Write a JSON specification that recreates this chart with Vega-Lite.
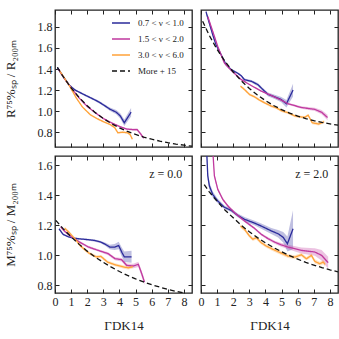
{
  "$schema": "https://vega.github.io/schema/vega-lite/v6.json",
  "background": "white",
  "padding": {"left": 3, "top": 8, "right": 0, "bottom": 0},
  "config": {
    "font": "Liberation Serif",
    "view": {"stroke": "#222222", "strokeWidth": 1.3},
    "axis": {"domain": false, "grid": false, "tickSize": -4, "tickColor": "#222222", "tickWidth": 1, "labelFont": "Liberation Serif", "labelFontSize": 12, "labelColor": "#222222", "labelPadding": 7, "labelFlush": false, "titleFont": "Liberation Serif", "titleFontSize": 13, "titleFontWeight": "normal", "titleColor": "#222222"},
    "legend": {"labelFont": "Liberation Serif", "labelFontSize": 9, "labelColor": "#222222"}
  },
  "datasets": {
    "d": [
      {"p":"Rz0","s":"0.7 < ν < 1.0","x":0.15,"y":1.413,"lo":1.405,"hi":1.421},
      {"p":"Rz0","s":"0.7 < ν < 1.0","x":0.5,"y":1.33,"lo":1.322,"hi":1.338},
      {"p":"Rz0","s":"0.7 < ν < 1.0","x":0.9,"y":1.245,"lo":1.237,"hi":1.253},
      {"p":"Rz0","s":"0.7 < ν < 1.0","x":1.25,"y":1.2,"lo":1.192,"hi":1.208},
      {"p":"Rz0","s":"0.7 < ν < 1.0","x":1.7,"y":1.165,"lo":1.155,"hi":1.175},
      {"p":"Rz0","s":"0.7 < ν < 1.0","x":2.1,"y":1.135,"lo":1.125,"hi":1.145},
      {"p":"Rz0","s":"0.7 < ν < 1.0","x":2.5,"y":1.105,"lo":1.095,"hi":1.115},
      {"p":"Rz0","s":"0.7 < ν < 1.0","x":2.75,"y":1.085,"lo":1.073,"hi":1.097},
      {"p":"Rz0","s":"0.7 < ν < 1.0","x":3.0,"y":1.06,"lo":1.048,"hi":1.072},
      {"p":"Rz0","s":"0.7 < ν < 1.0","x":3.4,"y":1.02,"lo":1.005,"hi":1.035},
      {"p":"Rz0","s":"0.7 < ν < 1.0","x":3.8,"y":0.99,"lo":0.97,"hi":1.01},
      {"p":"Rz0","s":"0.7 < ν < 1.0","x":4.05,"y":0.955,"lo":0.93,"hi":0.98},
      {"p":"Rz0","s":"0.7 < ν < 1.0","x":4.3,"y":0.89,"lo":0.86,"hi":0.92},
      {"p":"Rz0","s":"0.7 < ν < 1.0","x":4.72,"y":0.99,"lo":0.95,"hi":1.03},
      {"p":"Rz0","s":"1.5 < ν < 2.0","x":0.2,"y":1.4,"lo":1.395,"hi":1.405},
      {"p":"Rz0","s":"1.5 < ν < 2.0","x":0.6,"y":1.305,"lo":1.3,"hi":1.31},
      {"p":"Rz0","s":"1.5 < ν < 2.0","x":1.0,"y":1.22,"lo":1.215,"hi":1.225},
      {"p":"Rz0","s":"1.5 < ν < 2.0","x":1.5,"y":1.125,"lo":1.12,"hi":1.13},
      {"p":"Rz0","s":"1.5 < ν < 2.0","x":2.0,"y":1.045,"lo":1.04,"hi":1.05},
      {"p":"Rz0","s":"1.5 < ν < 2.0","x":2.5,"y":0.985,"lo":0.979,"hi":0.991},
      {"p":"Rz0","s":"1.5 < ν < 2.0","x":3.0,"y":0.93,"lo":0.924,"hi":0.936},
      {"p":"Rz0","s":"1.5 < ν < 2.0","x":3.5,"y":0.89,"lo":0.884,"hi":0.896},
      {"p":"Rz0","s":"1.5 < ν < 2.0","x":4.0,"y":0.855,"lo":0.848,"hi":0.862},
      {"p":"Rz0","s":"1.5 < ν < 2.0","x":4.45,"y":0.83,"lo":0.822,"hi":0.838},
      {"p":"Rz0","s":"1.5 < ν < 2.0","x":4.85,"y":0.825,"lo":0.815,"hi":0.835},
      {"p":"Rz0","s":"1.5 < ν < 2.0","x":5.1,"y":0.825,"lo":0.813,"hi":0.837},
      {"p":"Rz0","s":"1.5 < ν < 2.0","x":5.3,"y":0.787,"lo":0.773,"hi":0.801},
      {"p":"Rz0","s":"1.5 < ν < 2.0","x":5.5,"y":0.745,"lo":0.73,"hi":0.76},
      {"p":"Rz0","s":"3.0 < ν < 6.0","x":0.3,"y":1.38,"lo":1.372,"hi":1.388},
      {"p":"Rz0","s":"3.0 < ν < 6.0","x":0.9,"y":1.24,"lo":1.232,"hi":1.248},
      {"p":"Rz0","s":"3.0 < ν < 6.0","x":1.3,"y":1.13,"lo":1.122,"hi":1.138},
      {"p":"Rz0","s":"3.0 < ν < 6.0","x":1.7,"y":1.04,"lo":1.032,"hi":1.048},
      {"p":"Rz0","s":"3.0 < ν < 6.0","x":2.2,"y":0.965,"lo":0.957,"hi":0.973},
      {"p":"Rz0","s":"3.0 < ν < 6.0","x":2.6,"y":0.93,"lo":0.922,"hi":0.938},
      {"p":"Rz0","s":"3.0 < ν < 6.0","x":3.0,"y":0.9,"lo":0.892,"hi":0.908},
      {"p":"Rz0","s":"3.0 < ν < 6.0","x":3.4,"y":0.875,"lo":0.866,"hi":0.884},
      {"p":"Rz0","s":"3.0 < ν < 6.0","x":3.7,"y":0.845,"lo":0.836,"hi":0.854},
      {"p":"Rz0","s":"3.0 < ν < 6.0","x":3.9,"y":0.795,"lo":0.786,"hi":0.804},
      {"p":"Rz0","s":"3.0 < ν < 6.0","x":4.2,"y":0.8,"lo":0.79,"hi":0.81},
      {"p":"Rz0","s":"3.0 < ν < 6.0","x":4.5,"y":0.795,"lo":0.785,"hi":0.805},
      {"p":"Rz0","s":"3.0 < ν < 6.0","x":4.65,"y":0.78,"lo":0.769,"hi":0.791},
      {"p":"Rz0","s":"3.0 < ν < 6.0","x":4.8,"y":0.735,"lo":0.723,"hi":0.747},
      {"p":"Rz0","s":"More + 15","x":0.15,"y":1.417},
      {"p":"Rz0","s":"More + 15","x":0.5,"y":1.329},
      {"p":"Rz0","s":"More + 15","x":1.0,"y":1.221},
      {"p":"Rz0","s":"More + 15","x":1.5,"y":1.129},
      {"p":"Rz0","s":"More + 15","x":2.0,"y":1.052},
      {"p":"Rz0","s":"More + 15","x":2.5,"y":0.986},
      {"p":"Rz0","s":"More + 15","x":3.0,"y":0.93},
      {"p":"Rz0","s":"More + 15","x":3.5,"y":0.882},
      {"p":"Rz0","s":"More + 15","x":4.0,"y":0.842},
      {"p":"Rz0","s":"More + 15","x":4.5,"y":0.808},
      {"p":"Rz0","s":"More + 15","x":5.0,"y":0.779},
      {"p":"Rz0","s":"More + 15","x":5.5,"y":0.754},
      {"p":"Rz0","s":"More + 15","x":6.0,"y":0.734},
      {"p":"Rz0","s":"More + 15","x":6.5,"y":0.716},
      {"p":"Rz0","s":"More + 15","x":7.0,"y":0.701},
      {"p":"Rz0","s":"More + 15","x":7.5,"y":0.688},
      {"p":"Rz0","s":"More + 15","x":8.0,"y":0.677},
      {"p":"Rz0","s":"More + 15","x":8.5,"y":0.668},

      {"p":"Rz2","s":"0.7 < ν < 1.0","x":0.31,"y":1.944,"lo":1.924,"hi":1.96},
      {"p":"Rz2","s":"0.7 < ν < 1.0","x":0.52,"y":1.834,"lo":1.814,"hi":1.854},
      {"p":"Rz2","s":"0.7 < ν < 1.0","x":0.73,"y":1.724,"lo":1.709,"hi":1.739},
      {"p":"Rz2","s":"0.7 < ν < 1.0","x":0.93,"y":1.63,"lo":1.618,"hi":1.642},
      {"p":"Rz2","s":"0.7 < ν < 1.0","x":1.25,"y":1.535,"lo":1.525,"hi":1.545},
      {"p":"Rz2","s":"0.7 < ν < 1.0","x":1.56,"y":1.441,"lo":1.431,"hi":1.451},
      {"p":"Rz2","s":"0.7 < ν < 1.0","x":1.87,"y":1.394,"lo":1.384,"hi":1.404},
      {"p":"Rz2","s":"0.7 < ν < 1.0","x":2.28,"y":1.36,"lo":1.35,"hi":1.37},
      {"p":"Rz2","s":"0.7 < ν < 1.0","x":2.49,"y":1.337,"lo":1.327,"hi":1.347},
      {"p":"Rz2","s":"0.7 < ν < 1.0","x":2.7,"y":1.298,"lo":1.286,"hi":1.31},
      {"p":"Rz2","s":"0.7 < ν < 1.0","x":3.12,"y":1.284,"lo":1.272,"hi":1.296},
      {"p":"Rz2","s":"0.7 < ν < 1.0","x":3.53,"y":1.252,"lo":1.237,"hi":1.267},
      {"p":"Rz2","s":"0.7 < ν < 1.0","x":3.84,"y":1.205,"lo":1.19,"hi":1.22},
      {"p":"Rz2","s":"0.7 < ν < 1.0","x":4.15,"y":1.16,"lo":1.142,"hi":1.178},
      {"p":"Rz2","s":"0.7 < ν < 1.0","x":4.57,"y":1.136,"lo":1.116,"hi":1.156},
      {"p":"Rz2","s":"0.7 < ν < 1.0","x":4.98,"y":1.11,"lo":1.085,"hi":1.135},
      {"p":"Rz2","s":"0.7 < ν < 1.0","x":5.3,"y":1.07,"lo":1.035,"hi":1.105},
      {"p":"Rz2","s":"0.7 < ν < 1.0","x":5.71,"y":1.2,"lo":1.14,"hi":1.26},
      {"p":"Rz2","s":"1.5 < ν < 2.0","x":0.42,"y":1.897,"lo":1.877,"hi":1.917},
      {"p":"Rz2","s":"1.5 < ν < 2.0","x":0.73,"y":1.756,"lo":1.741,"hi":1.771},
      {"p":"Rz2","s":"1.5 < ν < 2.0","x":1.04,"y":1.614,"lo":1.604,"hi":1.624},
      {"p":"Rz2","s":"1.5 < ν < 2.0","x":1.45,"y":1.457,"lo":1.449,"hi":1.465},
      {"p":"Rz2","s":"1.5 < ν < 2.0","x":1.87,"y":1.388,"lo":1.382,"hi":1.394},
      {"p":"Rz2","s":"1.5 < ν < 2.0","x":2.49,"y":1.3,"lo":1.294,"hi":1.306},
      {"p":"Rz2","s":"1.5 < ν < 2.0","x":3.12,"y":1.243,"lo":1.237,"hi":1.249},
      {"p":"Rz2","s":"1.5 < ν < 2.0","x":3.74,"y":1.19,"lo":1.184,"hi":1.196},
      {"p":"Rz2","s":"1.5 < ν < 2.0","x":4.36,"y":1.149,"lo":1.141,"hi":1.157},
      {"p":"Rz2","s":"1.5 < ν < 2.0","x":4.98,"y":1.105,"lo":1.097,"hi":1.113},
      {"p":"Rz2","s":"1.5 < ν < 2.0","x":5.4,"y":1.07,"lo":1.06,"hi":1.08},
      {"p":"Rz2","s":"1.5 < ν < 2.0","x":6.23,"y":1.035,"lo":1.023,"hi":1.047},
      {"p":"Rz2","s":"1.5 < ν < 2.0","x":7.06,"y":1.017,"lo":1.002,"hi":1.032},
      {"p":"Rz2","s":"1.5 < ν < 2.0","x":7.48,"y":0.99,"lo":0.97,"hi":1.01},
      {"p":"Rz2","s":"1.5 < ν < 2.0","x":7.85,"y":0.94,"lo":0.915,"hi":0.965},
      {"p":"Rz2","s":"3.0 < ν < 6.0","x":2.45,"y":1.237,"lo":1.225,"hi":1.249},
      {"p":"Rz2","s":"3.0 < ν < 6.0","x":2.7,"y":1.205,"lo":1.193,"hi":1.217},
      {"p":"Rz2","s":"3.0 < ν < 6.0","x":3.01,"y":1.158,"lo":1.146,"hi":1.17},
      {"p":"Rz2","s":"3.0 < ν < 6.0","x":3.32,"y":1.136,"lo":1.124,"hi":1.148},
      {"p":"Rz2","s":"3.0 < ν < 6.0","x":3.63,"y":1.105,"lo":1.093,"hi":1.117},
      {"p":"Rz2","s":"3.0 < ν < 6.0","x":3.95,"y":1.079,"lo":1.067,"hi":1.091},
      {"p":"Rz2","s":"3.0 < ν < 6.0","x":4.36,"y":1.048,"lo":1.036,"hi":1.06},
      {"p":"Rz2","s":"3.0 < ν < 6.0","x":4.67,"y":1.032,"lo":1.02,"hi":1.044},
      {"p":"Rz2","s":"3.0 < ν < 6.0","x":4.98,"y":1.005,"lo":0.993,"hi":1.017},
      {"p":"Rz2","s":"3.0 < ν < 6.0","x":5.4,"y":0.985,"lo":0.973,"hi":0.997},
      {"p":"Rz2","s":"3.0 < ν < 6.0","x":5.82,"y":0.955,"lo":0.943,"hi":0.967},
      {"p":"Rz2","s":"3.0 < ν < 6.0","x":6.2,"y":0.945,"lo":0.933,"hi":0.957},
      {"p":"Rz2","s":"3.0 < ν < 6.0","x":6.44,"y":0.942,"lo":0.93,"hi":0.954},
      {"p":"Rz2","s":"3.0 < ν < 6.0","x":6.65,"y":0.962,"lo":0.95,"hi":0.974},
      {"p":"Rz2","s":"3.0 < ν < 6.0","x":6.9,"y":0.89,"lo":0.876,"hi":0.904},
      {"p":"Rz2","s":"3.0 < ν < 6.0","x":7.3,"y":0.878,"lo":0.864,"hi":0.892},
      {"p":"Rz2","s":"3.0 < ν < 6.0","x":7.64,"y":0.9,"lo":0.886,"hi":0.914},
      {"p":"Rz2","s":"More + 15","x":0.1,"y":1.853},
      {"p":"Rz2","s":"More + 15","x":0.5,"y":1.723},
      {"p":"Rz2","s":"More + 15","x":1.0,"y":1.585},
      {"p":"Rz2","s":"More + 15","x":1.5,"y":1.47},
      {"p":"Rz2","s":"More + 15","x":2.0,"y":1.372},
      {"p":"Rz2","s":"More + 15","x":2.5,"y":1.288},
      {"p":"Rz2","s":"More + 15","x":3.0,"y":1.216},
      {"p":"Rz2","s":"More + 15","x":3.5,"y":1.153},
      {"p":"Rz2","s":"More + 15","x":4.0,"y":1.1},
      {"p":"Rz2","s":"More + 15","x":4.5,"y":1.054},
      {"p":"Rz2","s":"More + 15","x":5.0,"y":1.015},
      {"p":"Rz2","s":"More + 15","x":5.5,"y":0.982},
      {"p":"Rz2","s":"More + 15","x":6.0,"y":0.954},
      {"p":"Rz2","s":"More + 15","x":6.5,"y":0.93},
      {"p":"Rz2","s":"More + 15","x":7.0,"y":0.91},
      {"p":"Rz2","s":"More + 15","x":7.5,"y":0.894},
      {"p":"Rz2","s":"More + 15","x":8.0,"y":0.88},
      {"p":"Rz2","s":"More + 15","x":8.5,"y":0.867},

      {"p":"Mz0","s":"0.7 < ν < 1.0","x":0.25,"y":1.177,"lo":1.169,"hi":1.185},
      {"p":"Mz0","s":"0.7 < ν < 1.0","x":0.5,"y":1.14,"lo":1.134,"hi":1.146},
      {"p":"Mz0","s":"0.7 < ν < 1.0","x":0.8,"y":1.125,"lo":1.12,"hi":1.13},
      {"p":"Mz0","s":"0.7 < ν < 1.0","x":1.1,"y":1.115,"lo":1.11,"hi":1.12},
      {"p":"Mz0","s":"0.7 < ν < 1.0","x":1.5,"y":1.11,"lo":1.105,"hi":1.115},
      {"p":"Mz0","s":"0.7 < ν < 1.0","x":2.0,"y":1.105,"lo":1.099,"hi":1.111},
      {"p":"Mz0","s":"0.7 < ν < 1.0","x":2.4,"y":1.1,"lo":1.093,"hi":1.107},
      {"p":"Mz0","s":"0.7 < ν < 1.0","x":2.8,"y":1.09,"lo":1.082,"hi":1.098},
      {"p":"Mz0","s":"0.7 < ν < 1.0","x":3.1,"y":1.075,"lo":1.065,"hi":1.085},
      {"p":"Mz0","s":"0.7 < ν < 1.0","x":3.4,"y":1.055,"lo":1.04,"hi":1.07},
      {"p":"Mz0","s":"0.7 < ν < 1.0","x":3.7,"y":1.055,"lo":1.035,"hi":1.075},
      {"p":"Mz0","s":"0.7 < ν < 1.0","x":3.95,"y":1.065,"lo":1.04,"hi":1.09},
      {"p":"Mz0","s":"0.7 < ν < 1.0","x":4.15,"y":1.02,"lo":0.99,"hi":1.05},
      {"p":"Mz0","s":"0.7 < ν < 1.0","x":4.3,"y":0.99,"lo":0.955,"hi":1.025},
      {"p":"Mz0","s":"0.7 < ν < 1.0","x":4.75,"y":0.99,"lo":0.95,"hi":1.03},
      {"p":"Mz0","s":"1.5 < ν < 2.0","x":0.35,"y":1.19,"lo":1.182,"hi":1.198},
      {"p":"Mz0","s":"1.5 < ν < 2.0","x":0.6,"y":1.16,"lo":1.152,"hi":1.168},
      {"p":"Mz0","s":"1.5 < ν < 2.0","x":1.0,"y":1.125,"lo":1.117,"hi":1.133},
      {"p":"Mz0","s":"1.5 < ν < 2.0","x":1.5,"y":1.09,"lo":1.082,"hi":1.098},
      {"p":"Mz0","s":"1.5 < ν < 2.0","x":2.06,"y":1.056,"lo":1.048,"hi":1.064},
      {"p":"Mz0","s":"1.5 < ν < 2.0","x":2.68,"y":1.033,"lo":1.025,"hi":1.041},
      {"p":"Mz0","s":"1.5 < ν < 2.0","x":3.3,"y":1.011,"lo":1.001,"hi":1.021},
      {"p":"Mz0","s":"1.5 < ν < 2.0","x":3.72,"y":0.978,"lo":0.968,"hi":0.988},
      {"p":"Mz0","s":"1.5 < ν < 2.0","x":4.13,"y":0.971,"lo":0.959,"hi":0.983},
      {"p":"Mz0","s":"1.5 < ν < 2.0","x":4.45,"y":0.933,"lo":0.921,"hi":0.945},
      {"p":"Mz0","s":"1.5 < ν < 2.0","x":4.86,"y":0.929,"lo":0.914,"hi":0.944},
      {"p":"Mz0","s":"1.5 < ν < 2.0","x":5.17,"y":0.94,"lo":0.922,"hi":0.958},
      {"p":"Mz0","s":"1.5 < ν < 2.0","x":5.38,"y":0.878,"lo":0.858,"hi":0.898},
      {"p":"Mz0","s":"1.5 < ν < 2.0","x":5.55,"y":0.822,"lo":0.802,"hi":0.842},
      {"p":"Mz0","s":"3.0 < ν < 6.0","x":0.6,"y":1.18,"lo":1.17,"hi":1.19},
      {"p":"Mz0","s":"3.0 < ν < 6.0","x":0.85,"y":1.155,"lo":1.145,"hi":1.165},
      {"p":"Mz0","s":"3.0 < ν < 6.0","x":1.23,"y":1.111,"lo":1.101,"hi":1.121},
      {"p":"Mz0","s":"3.0 < ν < 6.0","x":1.6,"y":1.06,"lo":1.05,"hi":1.07},
      {"p":"Mz0","s":"3.0 < ν < 6.0","x":2.1,"y":1.015,"lo":1.005,"hi":1.025},
      {"p":"Mz0","s":"3.0 < ν < 6.0","x":2.55,"y":0.99,"lo":0.98,"hi":1.0},
      {"p":"Mz0","s":"3.0 < ν < 6.0","x":2.85,"y":0.993,"lo":0.983,"hi":1.003},
      {"p":"Mz0","s":"3.0 < ν < 6.0","x":3.26,"y":0.955,"lo":0.945,"hi":0.965},
      {"p":"Mz0","s":"3.0 < ν < 6.0","x":3.78,"y":0.935,"lo":0.925,"hi":0.945},
      {"p":"Mz0","s":"3.0 < ν < 6.0","x":4.3,"y":0.922,"lo":0.911,"hi":0.933},
      {"p":"Mz0","s":"3.0 < ν < 6.0","x":4.55,"y":0.916,"lo":0.905,"hi":0.927},
      {"p":"Mz0","s":"3.0 < ν < 6.0","x":4.82,"y":0.924,"lo":0.912,"hi":0.936},
      {"p":"Mz0","s":"More + 15","x":0.05,"y":1.233},
      {"p":"Mz0","s":"More + 15","x":0.5,"y":1.178},
      {"p":"Mz0","s":"More + 15","x":1.0,"y":1.123},
      {"p":"Mz0","s":"More + 15","x":1.5,"y":1.073},
      {"p":"Mz0","s":"More + 15","x":2.0,"y":1.028},
      {"p":"Mz0","s":"More + 15","x":2.5,"y":0.988},
      {"p":"Mz0","s":"More + 15","x":3.0,"y":0.953},
      {"p":"Mz0","s":"More + 15","x":3.5,"y":0.921},
      {"p":"Mz0","s":"More + 15","x":4.0,"y":0.892},
      {"p":"Mz0","s":"More + 15","x":4.5,"y":0.866},
      {"p":"Mz0","s":"More + 15","x":5.0,"y":0.843},
      {"p":"Mz0","s":"More + 15","x":5.5,"y":0.823},
      {"p":"Mz0","s":"More + 15","x":6.0,"y":0.804},
      {"p":"Mz0","s":"More + 15","x":6.5,"y":0.788},
      {"p":"Mz0","s":"More + 15","x":7.0,"y":0.773},
      {"p":"Mz0","s":"More + 15","x":7.5,"y":0.76},
      {"p":"Mz0","s":"More + 15","x":8.0,"y":0.749},

      {"p":"Mz2","s":"0.7 < ν < 1.0","x":0.33,"y":1.75,"lo":1.71,"hi":1.79},
      {"p":"Mz2","s":"0.7 < ν < 1.0","x":0.42,"y":1.53,"lo":1.5,"hi":1.56},
      {"p":"Mz2","s":"0.7 < ν < 1.0","x":0.52,"y":1.462,"lo":1.437,"hi":1.487},
      {"p":"Mz2","s":"0.7 < ν < 1.0","x":0.73,"y":1.405,"lo":1.385,"hi":1.425},
      {"p":"Mz2","s":"0.7 < ν < 1.0","x":1.04,"y":1.362,"lo":1.347,"hi":1.377},
      {"p":"Mz2","s":"0.7 < ν < 1.0","x":1.45,"y":1.32,"lo":1.308,"hi":1.332},
      {"p":"Mz2","s":"0.7 < ν < 1.0","x":1.87,"y":1.3,"lo":1.288,"hi":1.312},
      {"p":"Mz2","s":"0.7 < ν < 1.0","x":2.28,"y":1.266,"lo":1.254,"hi":1.278},
      {"p":"Mz2","s":"0.7 < ν < 1.0","x":2.7,"y":1.24,"lo":1.225,"hi":1.255},
      {"p":"Mz2","s":"0.7 < ν < 1.0","x":3.32,"y":1.215,"lo":1.2,"hi":1.23},
      {"p":"Mz2","s":"0.7 < ν < 1.0","x":3.74,"y":1.195,"lo":1.177,"hi":1.213},
      {"p":"Mz2","s":"0.7 < ν < 1.0","x":4.36,"y":1.163,"lo":1.143,"hi":1.183},
      {"p":"Mz2","s":"0.7 < ν < 1.0","x":4.78,"y":1.144,"lo":1.119,"hi":1.169},
      {"p":"Mz2","s":"0.7 < ν < 1.0","x":5.1,"y":1.12,"lo":1.085,"hi":1.155},
      {"p":"Mz2","s":"0.7 < ν < 1.0","x":5.36,"y":1.077,"lo":1.025,"hi":1.125},
      {"p":"Mz2","s":"0.7 < ν < 1.0","x":5.71,"y":1.177,"lo":1.04,"hi":1.3},
      {"p":"Mz2","s":"1.5 < ν < 2.0","x":0.7,"y":1.75,"lo":1.73,"hi":1.77},
      {"p":"Mz2","s":"1.5 < ν < 2.0","x":0.83,"y":1.53,"lo":1.515,"hi":1.545},
      {"p":"Mz2","s":"1.5 < ν < 2.0","x":1.04,"y":1.44,"lo":1.428,"hi":1.452},
      {"p":"Mz2","s":"1.5 < ν < 2.0","x":1.35,"y":1.373,"lo":1.363,"hi":1.383},
      {"p":"Mz2","s":"1.5 < ν < 2.0","x":1.66,"y":1.33,"lo":1.322,"hi":1.338},
      {"p":"Mz2","s":"1.5 < ν < 2.0","x":2.08,"y":1.284,"lo":1.276,"hi":1.292},
      {"p":"Mz2","s":"1.5 < ν < 2.0","x":2.7,"y":1.229,"lo":1.221,"hi":1.237},
      {"p":"Mz2","s":"1.5 < ν < 2.0","x":3.32,"y":1.18,"lo":1.172,"hi":1.188},
      {"p":"Mz2","s":"1.5 < ν < 2.0","x":3.74,"y":1.14,"lo":1.132,"hi":1.148},
      {"p":"Mz2","s":"1.5 < ν < 2.0","x":4.15,"y":1.112,"lo":1.102,"hi":1.122},
      {"p":"Mz2","s":"1.5 < ν < 2.0","x":4.57,"y":1.088,"lo":1.078,"hi":1.098},
      {"p":"Mz2","s":"1.5 < ν < 2.0","x":4.98,"y":1.07,"lo":1.058,"hi":1.082},
      {"p":"Mz2","s":"1.5 < ν < 2.0","x":5.4,"y":1.055,"lo":1.04,"hi":1.07},
      {"p":"Mz2","s":"1.5 < ν < 2.0","x":6.23,"y":1.033,"lo":1.013,"hi":1.053},
      {"p":"Mz2","s":"1.5 < ν < 2.0","x":7.06,"y":1.022,"lo":0.997,"hi":1.047},
      {"p":"Mz2","s":"1.5 < ν < 2.0","x":7.48,"y":1.0,"lo":0.965,"hi":1.035},
      {"p":"Mz2","s":"1.5 < ν < 2.0","x":7.89,"y":0.951,"lo":0.911,"hi":0.991},
      {"p":"Mz2","s":"3.0 < ν < 6.0","x":2.45,"y":1.195,"lo":1.183,"hi":1.207},
      {"p":"Mz2","s":"3.0 < ν < 6.0","x":2.7,"y":1.173,"lo":1.161,"hi":1.185},
      {"p":"Mz2","s":"3.0 < ν < 6.0","x":3.01,"y":1.129,"lo":1.117,"hi":1.141},
      {"p":"Mz2","s":"3.0 < ν < 6.0","x":3.22,"y":1.107,"lo":1.095,"hi":1.119},
      {"p":"Mz2","s":"3.0 < ν < 6.0","x":3.43,"y":1.118,"lo":1.106,"hi":1.13},
      {"p":"Mz2","s":"3.0 < ν < 6.0","x":3.74,"y":1.084,"lo":1.072,"hi":1.096},
      {"p":"Mz2","s":"3.0 < ν < 6.0","x":4.05,"y":1.062,"lo":1.05,"hi":1.074},
      {"p":"Mz2","s":"3.0 < ν < 6.0","x":4.47,"y":1.04,"lo":1.028,"hi":1.052},
      {"p":"Mz2","s":"3.0 < ν < 6.0","x":4.98,"y":1.015,"lo":1.003,"hi":1.027},
      {"p":"Mz2","s":"3.0 < ν < 6.0","x":5.4,"y":0.995,"lo":0.983,"hi":1.007},
      {"p":"Mz2","s":"3.0 < ν < 6.0","x":5.82,"y":0.988,"lo":0.976,"hi":1.0},
      {"p":"Mz2","s":"3.0 < ν < 6.0","x":6.23,"y":1.004,"lo":0.992,"hi":1.016},
      {"p":"Mz2","s":"3.0 < ν < 6.0","x":6.54,"y":0.977,"lo":0.965,"hi":0.989},
      {"p":"Mz2","s":"3.0 < ν < 6.0","x":6.85,"y":1.0,"lo":0.988,"hi":1.012},
      {"p":"Mz2","s":"3.0 < ν < 6.0","x":7.06,"y":0.96,"lo":0.946,"hi":0.974},
      {"p":"Mz2","s":"3.0 < ν < 6.0","x":7.37,"y":0.944,"lo":0.93,"hi":0.958},
      {"p":"Mz2","s":"3.0 < ν < 6.0","x":7.58,"y":0.955,"lo":0.941,"hi":0.969},
      {"p":"Mz2","s":"3.0 < ν < 6.0","x":7.7,"y":0.94,"lo":0.926,"hi":0.954},
      {"p":"Mz2","s":"More + 15","x":0.2,"y":1.472},
      {"p":"Mz2","s":"More + 15","x":0.5,"y":1.425},
      {"p":"Mz2","s":"More + 15","x":1.0,"y":1.36},
      {"p":"Mz2","s":"More + 15","x":1.5,"y":1.3},
      {"p":"Mz2","s":"More + 15","x":2.0,"y":1.25},
      {"p":"Mz2","s":"More + 15","x":2.5,"y":1.2},
      {"p":"Mz2","s":"More + 15","x":3.0,"y":1.157},
      {"p":"Mz2","s":"More + 15","x":3.5,"y":1.118},
      {"p":"Mz2","s":"More + 15","x":4.0,"y":1.083},
      {"p":"Mz2","s":"More + 15","x":4.5,"y":1.052},
      {"p":"Mz2","s":"More + 15","x":5.0,"y":1.024},
      {"p":"Mz2","s":"More + 15","x":5.5,"y":0.998},
      {"p":"Mz2","s":"More + 15","x":6.0,"y":0.975},
      {"p":"Mz2","s":"More + 15","x":6.5,"y":0.953},
      {"p":"Mz2","s":"More + 15","x":7.0,"y":0.935},
      {"p":"Mz2","s":"More + 15","x":7.5,"y":0.918},
      {"p":"Mz2","s":"More + 15","x":8.0,"y":0.903},
      {"p":"Mz2","s":"More + 15","x":8.5,"y":0.89}
    ]
  },
  "columns": 2,
  "spacing": {"row": 9, "column": 9},
  "bounds": "flush",
  "concat": [
    {
      "width": 137, "height": 137,
      "data": {"name": "d"},
      "transform": [{"filter": "datum.p == 'Rz0'"}],
      "layer": [
        {"transform": [{"filter": "datum.lo != null"}],
         "mark": {"type": "area", "opacity": 0.3, "clip": true},
         "encoding": {
           "x": {"field": "x", "type": "quantitative", "scale": {"domain": [0, 8.5], "nice": false, "zero": false}, "axis": null},
           "y": {"field": "lo", "type": "quantitative", "scale": {"domain": [0.66, 1.96], "nice": false, "zero": false}, "axis": null},
           "y2": {"field": "hi"},
           "fill": {"field": "s", "type": "nominal", "scale": {"domain": ["0.7 < ν < 1.0", "1.5 < ν < 2.0", "3.0 < ν < 6.0"], "range": ["#2b2b9b", "#c0399f", "#ffa33a"]}, "legend": null}
         }},
        {"mark": {"type": "line", "strokeWidth": 1.3, "clip": true},
         "encoding": {
           "x": {"field": "x", "type": "quantitative", "axis": {"values": [0,1,2,3,4,5,6,7,8], "labels": false, "title": null}},
           "y": {"field": "y", "type": "quantitative", "axis": {"values": [0.8,1.0,1.2,1.4,1.6,1.8], "format": ".1f", "title": "R⁷⁵%ₛₚ / R₂₀₀ₘ", "titlePadding": 20}},
           "color": {"field": "s", "type": "nominal", "scale": {"domain": ["0.7 < ν < 1.0", "1.5 < ν < 2.0", "3.0 < ν < 6.0", "More + 15"], "range": ["#2b2b9b", "#c0399f", "#ffa33a", "#111111"]}, "legend": {"orient": "none", "legendX": 56, "legendY": 3, "title": null, "labelOffset": 7, "symbolType": "stroke", "symbolSize": 324, "symbolStrokeWidth": 1.5, "rowPadding": 1}},
           "strokeDash": {"field": "s", "type": "nominal", "scale": {"domain": ["0.7 < ν < 1.0", "1.5 < ν < 2.0", "3.0 < ν < 6.0", "More + 15"], "range": [[1,0],[1,0],[1,0],[5,3]]}, "legend": {"orient": "none", "legendX": 56, "legendY": 3, "title": null, "labelOffset": 7, "symbolType": "stroke", "symbolSize": 324, "symbolStrokeWidth": 1.5, "rowPadding": 1}}
         }},
        {"mark": {"type": "line", "opacity": 0},
         "encoding": {
           "x": {"field": "x", "type": "quantitative", "axis": {"orient": "top", "values": [0,1,2,3,4,5,6,7,8], "labels": false, "title": null}},
           "y": {"field": "y", "type": "quantitative", "axis": {"orient": "right", "values": [0.8,1.0,1.2,1.4,1.6,1.8], "labels": false, "title": null}}
         }}
      ],
      "resolve": {"axis": {"x": "independent", "y": "independent"}}
    },
    {
      "width": 137, "height": 137,
      "data": {"name": "d"},
      "transform": [{"filter": "datum.p == 'Rz2'"}],
      "layer": [
        {"transform": [{"filter": "datum.lo != null"}],
         "mark": {"type": "area", "opacity": 0.3, "clip": true},
         "encoding": {
           "x": {"field": "x", "type": "quantitative", "scale": {"domain": [0, 8.5], "nice": false, "zero": false}, "axis": null},
           "y": {"field": "lo", "type": "quantitative", "scale": {"domain": [0.66, 1.96], "nice": false, "zero": false}, "axis": null},
           "y2": {"field": "hi"},
           "fill": {"field": "s", "type": "nominal", "scale": {"domain": ["0.7 < ν < 1.0", "1.5 < ν < 2.0", "3.0 < ν < 6.0"], "range": ["#2b2b9b", "#c0399f", "#ffa33a"]}, "legend": null}
         }},
        {"mark": {"type": "line", "strokeWidth": 1.3, "clip": true},
         "encoding": {
           "x": {"field": "x", "type": "quantitative", "axis": {"values": [0,1,2,3,4,5,6,7,8], "labels": false, "title": null}},
           "y": {"field": "y", "type": "quantitative", "axis": {"values": [0.8,1.0,1.2,1.4,1.6,1.8], "labels": false, "title": null}},
           "color": {"field": "s", "type": "nominal", "scale": {"domain": ["0.7 < ν < 1.0", "1.5 < ν < 2.0", "3.0 < ν < 6.0", "More + 15"], "range": ["#2b2b9b", "#c0399f", "#ffa33a", "#111111"]}},
           "strokeDash": {"field": "s", "type": "nominal", "scale": {"domain": ["0.7 < ν < 1.0", "1.5 < ν < 2.0", "3.0 < ν < 6.0", "More + 15"], "range": [[1,0],[1,0],[1,0],[5,3]]}}
         }},
        {"mark": {"type": "line", "opacity": 0},
         "encoding": {
           "x": {"field": "x", "type": "quantitative", "axis": {"orient": "top", "values": [0,1,2,3,4,5,6,7,8], "labels": false, "title": null}},
           "y": {"field": "y", "type": "quantitative", "axis": {"orient": "right", "values": [0.8,1.0,1.2,1.4,1.6,1.8], "labels": false, "title": null}}
         }}
      ],
      "resolve": {"axis": {"x": "independent", "y": "independent"}}
    },
    {
      "width": 137, "height": 137,
      "data": {"name": "d"},
      "transform": [{"filter": "datum.p == 'Mz0'"}],
      "layer": [
        {"transform": [{"filter": "datum.lo != null"}],
         "mark": {"type": "area", "opacity": 0.3, "clip": true},
         "encoding": {
           "x": {"field": "x", "type": "quantitative", "scale": {"domain": [0, 8.5], "nice": false, "zero": false}, "axis": null},
           "y": {"field": "lo", "type": "quantitative", "scale": {"domain": [0.749, 1.662], "nice": false, "zero": false}, "axis": null},
           "y2": {"field": "hi"},
           "fill": {"field": "s", "type": "nominal", "scale": {"domain": ["0.7 < ν < 1.0", "1.5 < ν < 2.0", "3.0 < ν < 6.0"], "range": ["#2b2b9b", "#c0399f", "#ffa33a"]}, "legend": null}
         }},
        {"mark": {"type": "line", "strokeWidth": 1.3, "clip": true},
         "encoding": {
           "x": {"field": "x", "type": "quantitative", "axis": {"values": [0,1,2,3,4,5,6,7,8], "title": "ΓDK14", "titlePadding": 12}},
           "y": {"field": "y", "type": "quantitative", "axis": {"values": [0.8,1.0,1.2,1.4,1.6], "format": ".1f", "title": "M⁷⁵%ₛₚ / M₂₀₀ₘ", "titlePadding": 20}},
           "color": {"field": "s", "type": "nominal", "scale": {"domain": ["0.7 < ν < 1.0", "1.5 < ν < 2.0", "3.0 < ν < 6.0", "More + 15"], "range": ["#2b2b9b", "#c0399f", "#ffa33a", "#111111"]}},
           "strokeDash": {"field": "s", "type": "nominal", "scale": {"domain": ["0.7 < ν < 1.0", "1.5 < ν < 2.0", "3.0 < ν < 6.0", "More + 15"], "range": [[1,0],[1,0],[1,0],[5,3]]}}
         }},
        {"mark": {"type": "line", "opacity": 0},
         "encoding": {
           "x": {"field": "x", "type": "quantitative", "axis": {"orient": "top", "values": [0,1,2,3,4,5,6,7,8], "labels": false, "title": null}},
           "y": {"field": "y", "type": "quantitative", "axis": {"orient": "right", "values": [0.8,1.0,1.2,1.4,1.6], "labels": false, "title": null}}
         }},
        {"data": {"values": [{}]},
         "mark": {"type": "text", "align": "right", "baseline": "middle", "fontSize": 12, "font": "Liberation Serif", "color": "#222222"},
         "encoding": {
           "x": {"datum": 7.9, "type": "quantitative", "axis": null},
           "y": {"datum": 1.54, "type": "quantitative", "axis": null},
           "text": {"value": "z = 0.0"}
         }}
      ],
      "resolve": {"axis": {"x": "independent", "y": "independent"}}
    },
    {
      "width": 137, "height": 137,
      "data": {"name": "d"},
      "transform": [{"filter": "datum.p == 'Mz2'"}],
      "layer": [
        {"transform": [{"filter": "datum.lo != null"}],
         "mark": {"type": "area", "opacity": 0.3, "clip": true},
         "encoding": {
           "x": {"field": "x", "type": "quantitative", "scale": {"domain": [0, 8.5], "nice": false, "zero": false}, "axis": null},
           "y": {"field": "lo", "type": "quantitative", "scale": {"domain": [0.749, 1.662], "nice": false, "zero": false}, "axis": null},
           "y2": {"field": "hi"},
           "fill": {"field": "s", "type": "nominal", "scale": {"domain": ["0.7 < ν < 1.0", "1.5 < ν < 2.0", "3.0 < ν < 6.0"], "range": ["#2b2b9b", "#c0399f", "#ffa33a"]}, "legend": null}
         }},
        {"mark": {"type": "line", "strokeWidth": 1.3, "clip": true},
         "encoding": {
           "x": {"field": "x", "type": "quantitative", "axis": {"values": [0,1,2,3,4,5,6,7,8], "title": "ΓDK14", "titlePadding": 12}},
           "y": {"field": "y", "type": "quantitative", "axis": {"values": [0.8,1.0,1.2,1.4,1.6], "labels": false, "title": null}},
           "color": {"field": "s", "type": "nominal", "scale": {"domain": ["0.7 < ν < 1.0", "1.5 < ν < 2.0", "3.0 < ν < 6.0", "More + 15"], "range": ["#2b2b9b", "#c0399f", "#ffa33a", "#111111"]}},
           "strokeDash": {"field": "s", "type": "nominal", "scale": {"domain": ["0.7 < ν < 1.0", "1.5 < ν < 2.0", "3.0 < ν < 6.0", "More + 15"], "range": [[1,0],[1,0],[1,0],[5,3]]}}
         }},
        {"mark": {"type": "line", "opacity": 0},
         "encoding": {
           "x": {"field": "x", "type": "quantitative", "axis": {"orient": "top", "values": [0,1,2,3,4,5,6,7,8], "labels": false, "title": null}},
           "y": {"field": "y", "type": "quantitative", "axis": {"orient": "right", "values": [0.8,1.0,1.2,1.4,1.6], "labels": false, "title": null}}
         }},
        {"data": {"values": [{}]},
         "mark": {"type": "text", "align": "right", "baseline": "middle", "fontSize": 12, "font": "Liberation Serif", "color": "#222222"},
         "encoding": {
           "x": {"datum": 7.9, "type": "quantitative", "axis": null},
           "y": {"datum": 1.54, "type": "quantitative", "axis": null},
           "text": {"value": "z = 2.0"}
         }}
      ],
      "resolve": {"axis": {"x": "independent", "y": "independent"}}
    }
  ]
}
